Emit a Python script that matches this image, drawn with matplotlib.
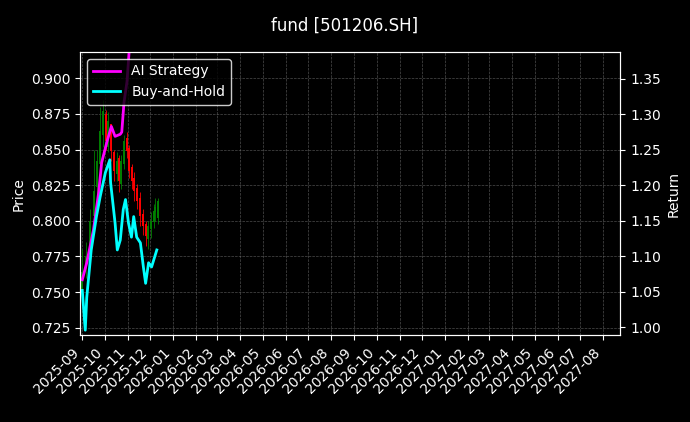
import matplotlib
matplotlib.use("Agg")
import matplotlib.pyplot as plt
import matplotlib.dates as mdates
import pandas as pd

candle_dates = ["2025-09-01","2025-09-06","2025-09-12","2025-09-17","2025-09-21","2025-09-25","2025-09-29",
                "2025-10-03","2025-10-06","2025-10-10","2025-10-13","2025-10-17","2025-10-20","2025-10-23",
                "2025-10-27","2025-10-31","2025-11-03","2025-11-07","2025-11-10","2025-11-14","2025-11-18",
                "2025-11-21","2025-11-25","2025-11-28","2025-12-02","2025-12-06","2025-12-08","2025-12-11"]
closes = [0.764,0.775,0.800,0.821,0.842,0.863,0.877,0.856,0.870,0.849,0.835,0.842,0.828,0.842,
          0.856,0.849,0.835,0.828,0.821,0.814,0.803,0.796,0.789,0.796,0.800,0.807,0.810,0.814]
opens = [0.752,0.766,0.778,0.803,0.824,0.840,0.860,0.875,0.852,0.868,0.848,0.833,0.844,0.826,
         0.840,0.858,0.851,0.838,0.830,0.823,0.816,0.805,0.798,0.787,0.794,0.799,0.806,0.802]
highs = [0.780,0.785,0.808,0.850,0.850,0.880,0.885,0.878,0.876,0.862,0.850,0.848,0.846,0.846,
         0.860,0.862,0.853,0.840,0.834,0.826,0.820,0.808,0.800,0.800,0.806,0.812,0.816,0.816]
lows = [0.748,0.760,0.772,0.798,0.818,0.836,0.852,0.850,0.848,0.842,0.828,0.828,0.820,0.822,
        0.836,0.844,0.830,0.822,0.814,0.808,0.796,0.790,0.782,0.780,0.788,0.795,0.800,0.798]

line_dates = ["2025-09-01","2025-09-05","2025-09-07","2025-09-13","2025-09-20","2025-09-25","2025-10-02",
              "2025-10-08","2025-10-09","2025-10-15","2025-10-18","2025-10-22","2025-10-26","2025-10-29",
              "2025-11-02","2025-11-06","2025-11-09","2025-11-13","2025-11-18","2025-11-22","2025-11-25",
              "2025-11-29","2025-12-03","2025-12-10"]
buy_hold = [1.052,0.996,1.042,1.109,1.156,1.184,1.218,1.236,1.204,1.147,1.109,1.123,1.166,1.180,
            1.147,1.127,1.156,1.127,1.119,1.085,1.062,1.091,1.085,1.109]
ai_dates = ["2025-09-01","2025-09-07","2025-09-16","2025-09-23","2025-09-27","2025-10-04","2025-10-10",
            "2025-10-15","2025-10-22","2025-10-24","2025-10-27","2025-10-31","2025-11-05","2025-11-20","2025-12-10"]
ai_strategy = [1.067,1.091,1.137,1.190,1.232,1.261,1.283,1.269,1.272,1.275,1.317,1.346,1.42,1.45,1.46]

plt.rcParams['font.family'] = ['DejaVu Sans']
fig = plt.figure(figsize=(6.9, 4.22), dpi=100, facecolor='black')
ax = fig.add_axes([0.116, 0.205, 0.783, 0.672])
ax.set_facecolor('black')
cd = pd.to_datetime(candle_dates)
for d, o, h, l, c in zip(cd, opens, highs, lows, closes):
    col = 'green' if c >= o else 'red'
    ax.vlines(d, l, h, color=col, linewidth=0.6)
    ax.vlines(d, min(o, c), max(o, c), color=col, linewidth=1.4)
ax.set_ylim(0.7195, 0.9185)
ax.set_xlim(pd.Timestamp("2025-08-29"), pd.Timestamp("2027-08-24"))
ax.set_ylabel("Price", color='white')
ax.xaxis.set_major_locator(mdates.MonthLocator())
ax.xaxis.set_major_formatter(mdates.DateFormatter('%Y-%m'))
plt.setp(ax.get_xticklabels(), rotation=45, ha='right')
ax.grid(True, color='gray', linestyle='--', linewidth=0.5, alpha=0.6)

ax2 = ax.twinx()
l1, = ax2.plot(pd.to_datetime(ai_dates), ai_strategy, color='magenta', linewidth=2, label='AI Strategy')
l2, = ax2.plot(pd.to_datetime(line_dates), buy_hold, color='cyan', linewidth=2, label='Buy-and-Hold')
ax2.set_ylim(0.9885, 1.388)
ax2.set_ylabel("Return", color='white')
for a in (ax, ax2):
    a.tick_params(colors='white')
    for s in a.spines.values():
        s.set_color('white')
leg = ax2.legend(handles=[l1, l2], loc='upper left', facecolor='black', edgecolor='white', labelcolor='white')
fig.suptitle("fund [501206.SH]", color='white', y=0.96)
fig.savefig("out.png", facecolor='black')
